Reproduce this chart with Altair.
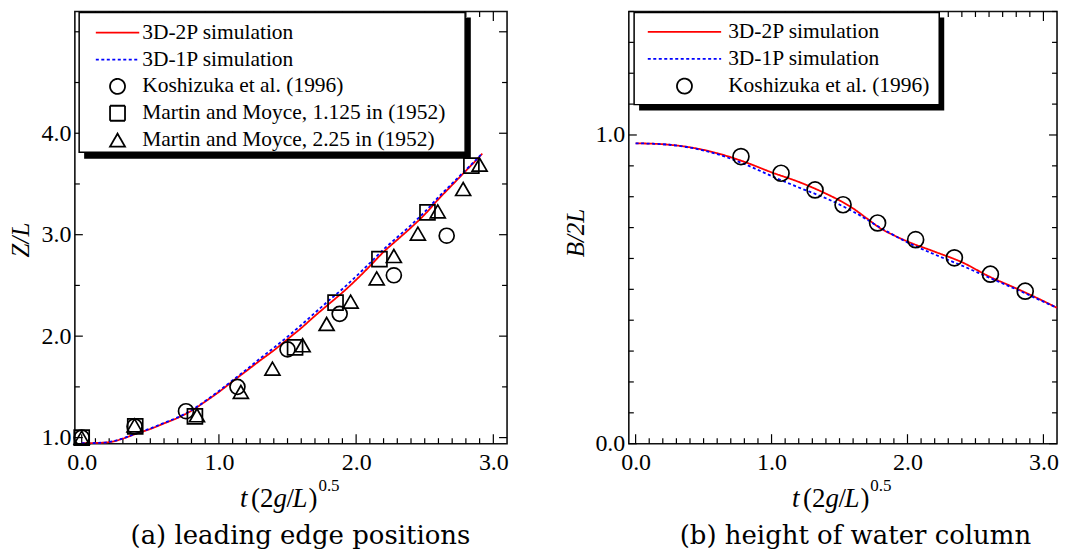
import altair as alt
import pandas as pd

FONT = "Liberation Serif"

# ---------------- panel (a): leading edge positions ----------------
S2P = "3D-2P simulation"
S1P = "3D-1P simulation"
SK = "Koshizuka et al. (1996)"
SM1 = "Martin and Moyce, 1.125 in (1952)"
SM2 = "Martin and Moyce, 2.25 in (1952)"

t_sim_a = [0.0, 0.1, 0.2, 0.3, 0.4, 0.5, 0.6, 0.7, 0.8, 0.9, 1.0, 1.1, 1.2, 1.3, 1.4,
           1.5, 1.6, 1.7, 1.8, 1.9, 2.0, 2.1, 2.2, 2.3, 2.4, 2.5, 2.6, 2.7, 2.8, 2.9, 2.92]
z_2p = [0.945, 0.947, 0.955, 0.99, 1.04, 1.085, 1.14, 1.195, 1.265, 1.355, 1.45, 1.555,
        1.657, 1.76, 1.86, 1.97, 2.08, 2.20, 2.315, 2.43, 2.555, 2.69, 2.83, 2.95, 3.07,
        3.20, 3.35, 3.49, 3.63, 3.77, 3.80]
z_1p = [0.945, 0.947, 0.957, 0.992, 1.042, 1.09, 1.145, 1.20, 1.27, 1.36, 1.46, 1.565,
        1.67, 1.78, 1.885, 1.995, 2.11, 2.23, 2.35, 2.465, 2.59, 2.72, 2.855, 2.975, 3.095,
        3.225, 3.37, 3.505, 3.64, 3.775, 3.805]

kosh_t_a = [0.0, 0.385, 0.76, 1.135, 1.50, 1.88, 2.275, 2.66]
kosh_z = [1.0, 1.11, 1.26, 1.50, 1.87, 2.22, 2.60, 2.99]
mm1_t = [0.0, 0.39, 0.825, 1.555, 1.85, 2.17, 2.52, 2.84]
mm1_z = [1.0, 1.11, 1.21, 1.89, 2.33, 2.76, 3.22, 3.68]
mm2_t = [0.0, 0.385, 0.84, 1.16, 1.39, 1.61, 1.785, 1.96, 2.15, 2.275, 2.45, 2.595, 2.78, 2.90]
mm2_z = [1.0, 1.12, 1.22, 1.45, 1.68, 1.91, 2.12, 2.34, 2.57, 2.79, 3.01, 3.23, 3.45, 3.69]

# ---------------- panel (b): height of water column ----------------
t_sim_b = [0.0, 0.2, 0.4, 0.6, 0.8, 1.0, 1.2, 1.4, 1.5, 1.6, 1.7, 1.8, 1.9, 2.0, 2.2, 2.4,
           2.6, 2.8, 3.0, 3.1]
b_2p = [0.973, 0.970, 0.960, 0.941, 0.913, 0.879, 0.848, 0.81, 0.788, 0.762, 0.73, 0.698,
        0.675, 0.655, 0.622, 0.588, 0.542, 0.503, 0.462, 0.44]
t_sim_b1 = [0.0, 0.2, 0.4, 0.6, 0.8, 1.0, 1.2, 1.4, 1.6, 1.8, 2.0, 2.2, 2.4, 2.6, 2.8, 3.0, 3.1]
b_1p = [0.973, 0.970, 0.959, 0.938, 0.906, 0.867, 0.83, 0.795, 0.752, 0.70, 0.652, 0.613,
        0.577, 0.538, 0.500, 0.46, 0.44]
kosh_t_b = [0.775, 1.07, 1.32, 1.526, 1.78, 2.06, 2.345, 2.61, 2.866]
kosh_b = [0.93, 0.876, 0.822, 0.774, 0.715, 0.661, 0.602, 0.549, 0.494]

# ---------------- axes / ticks ----------------
X_DOMAIN = [-0.05, 3.1]
X_LABELS = [0.0, 1.0, 2.0, 3.0]
XT_MAJOR = [0.0, 1.0, 2.0, 3.0]
XT_MINOR = [round(0.1 * i, 1) for i in range(31) if i % 10 != 0]

YA_DOMAIN = [0.94, 5.2]
YA_LABELS = [1.0, 2.0, 3.0, 4.0]
YA_MAJOR = [1.0, 2.0, 3.0, 4.0, 5.0]
YA_MINOR = [1.5, 2.5, 3.5, 4.5]

YB_DOMAIN = [0.0, 1.4]
YB_LABELS = [0.0, 1.0]
YB_MAJOR = [0.0, 1.0]
YB_MINOR = [round(0.1 * i, 1) for i in range(15) if i % 10 != 0]

LINE_PATH_A = "M-2.9,0L2.9,0"
LINE_PATH_B = "M-4.9,0L4.9,0"

ONE = pd.DataFrame({"k": [0]})


def frame(t, v, name):
    return pd.DataFrame({"t": t, "v": v, "series": name})


def txt(text, x, y, size, style="normal", angle=0, font=FONT, align="left", baseline="alphabetic"):
    return alt.Chart(ONE).mark_text(
        text=text, font=font, fontSize=size, fontStyle=style, angle=angle,
        align=align, baseline=baseline, color="black"
    ).encode(x=alt.value(x), y=alt.value(y))


def panel(W, H, ydom, ylabels, ymajor, yminor, line_df, pts_df, series, colors, shapes,
          dashes, psize, leg_x, leg_y, label_offset, row_pad, box, shadow, ytitle, ytitle_xy,
          caption, caption_x, anchor):
    xs = alt.Scale(domain=X_DOMAIN, nice=False, zero=False)
    ys = alt.Scale(domain=ydom, nice=False, zero=False)
    xax = alt.Axis(values=X_LABELS, format=".1f", title=None, ticks=False, domain=False,
                   grid=False, labelPadding=7, labelFont=FONT, labelFontSize=24,
                   labelColor="black", labelFlush=False, labelOverlap=False)
    yax = alt.Axis(values=ylabels, format=".1f", title=None, ticks=False, domain=False,
                   grid=False, labelPadding=4, labelFont=FONT, labelFontSize=24,
                   labelColor="black", labelFlush=False, labelOverlap=False)

    def X():
        return alt.X("t:Q", scale=xs, axis=xax)

    def Y():
        return alt.Y("v:Q", scale=ys, axis=yax)

    leg = alt.Legend(title=None, orient="none", legendX=leg_x, legendY=leg_y, padding=0,
                     labelFont=FONT, labelFontSize=21.5, labelColor="black", labelLimit=600,
                     symbolSize=225, symbolStrokeWidth=1.8, symbolOpacity=1,
                     labelOffset=label_offset, rowPadding=row_pad, symbolOffset=0)
    cs = alt.Scale(domain=series, range=colors)
    ss = alt.Scale(domain=series, range=shapes)
    ds = alt.Scale(domain=series, range=dashes)

    layers = []
    # invisible anchor fixing the overall extent of the panel
    ax1, ax2, ay1, ay2 = anchor
    layers.append(alt.Chart(ONE).mark_rect(opacity=0).encode(
        x=alt.value(ax1), x2=alt.value(ax2), y=alt.value(ay1), y2=alt.value(ay2)))

    tick = dict(color="black", strokeWidth=1.2)
    for vals, ln in ((XT_MAJOR, 9.5), (XT_MINOR, 5.5)):
        d = pd.DataFrame({"t": vals})
        layers.append(alt.Chart(d).mark_rule(**tick).encode(
            x=X(), y=alt.value(H), y2=alt.value(H - ln)))
        layers.append(alt.Chart(d).mark_rule(**tick).encode(
            x=X(), y=alt.value(0), y2=alt.value(ln)))
    for vals, ln in ((ymajor, 8), (yminor, 5)):
        d = pd.DataFrame({"v": vals})
        layers.append(alt.Chart(d).mark_rule(**tick).encode(
            y=Y(), x=alt.value(0), x2=alt.value(ln)))
        layers.append(alt.Chart(d).mark_rule(**tick).encode(
            y=Y(), x=alt.value(W), x2=alt.value(W - ln)))

    layers.append(alt.Chart(line_df).mark_line(strokeWidth=1.8, interpolate="monotone").encode(
        x=X(), y=Y(),
        color=alt.Color("series:N", scale=cs, legend=leg),
        strokeDash=alt.StrokeDash("series:N", scale=ds, legend=leg)))
    layers.append(alt.Chart(pts_df).mark_point(filled=False, size=psize, strokeWidth=1.7,
                                               opacity=1).encode(
        x=X(), y=Y(),
        color=alt.Color("series:N", scale=cs, legend=leg),
        shape=alt.Shape("series:N", scale=ss, legend=leg)))

    sx1, sx2, sy1, sy2 = shadow
    layers.append(alt.Chart(ONE).mark_rect(color="black").encode(
        x=alt.value(sx1), x2=alt.value(sx2), y=alt.value(sy1), y2=alt.value(sy2)))
    bx1, bx2, by1, by2 = box
    layers.append(alt.Chart(ONE).mark_rect(fill="white", stroke="black", strokeWidth=1.5).encode(
        x=alt.value(bx1), x2=alt.value(bx2), y=alt.value(by1), y2=alt.value(by2)))

    c = W / 2
    layers += [
        txt("t", c - 51, 496, 27, "italic"),
        txt("(2", c - 40, 496, 27),
        txt("g", c - 17.5, 496, 27, "italic"),
        txt("/", c - 4.5, 496, 27),
        txt("L", c + 1.5, 496, 27, "italic"),
        txt(")", c + 17.5, 496, 27),
        txt("0.5", c + 27.5, 480, 17),
        txt(ytitle, ytitle_xy[0], ytitle_xy[1], 25, "italic", angle=270,
            align="center", baseline="middle"),
        txt(caption, caption_x, 533, 26, font="DejaVu Serif", align="center"),
    ]
    return alt.layer(*layers).properties(width=W, height=H)


series_a = [S2P, S1P, SK, SM1, SM2]
line_a = pd.concat([frame(t_sim_a, z_2p, S2P), frame(t_sim_a, z_1p, S1P)])
pts_a = pd.concat([frame(kosh_t_a, kosh_z, SK), frame(mm1_t, mm1_z, SM1),
                   frame(mm2_t, mm2_z, SM2)])
left = panel(
    433, 433, YA_DOMAIN, YA_LABELS, YA_MAJOR, YA_MINOR, line_a, pts_a, series_a,
    ["#ff0000", "#0000ff", "black", "black", "black"],
    [LINE_PATH_A, LINE_PATH_A, "circle", "square", "triangle-up"],
    [[1, 0], [3, 2.5], [1, 0], [1, 0], [1, 0]],
    225, 32, 10.5, 14, 3.9,
    (4.3, 391, 1, 141), (9.3, 396.7, 6, 147.6),
    "Z/L", (-54, 229), "(a) leading edge positions", 226,
    (-74, 0, -10, 543))

series_b = [S2P, S1P, SK]
line_b = pd.concat([frame(t_sim_b, b_2p, S2P), frame(t_sim_b1, b_1p, S1P)])
pts_b = frame(kosh_t_b, kosh_b, SK)
right = panel(
    429, 433, YB_DOMAIN, YB_LABELS, YB_MAJOR, YB_MINOR, line_b, pts_b, series_b,
    ["#ff0000", "#0000ff", "black"],
    [LINE_PATH_B, LINE_PATH_B, "circle"],
    [[1, 0], [3, 2.5], [1, 0]],
    256, 45, 9.6, 33, 4.2,
    (5.3, 311, 1, 93.3), (10.3, 316, 6, 99.3),
    "B/2L", (-53, 222), "(b) height of water column", 227,
    (0, 438, -10, 543))

chart = alt.hconcat(left, right, spacing=122, bounds="flush").resolve_scale(
    color="independent", shape="independent", strokeDash="independent",
    x="independent", y="independent"
).resolve_legend(
    color="independent", shape="independent", strokeDash="independent"
).properties(
    autosize=alt.AutoSizeParams(type="pad"),
    padding=0,
).configure_view(stroke="#111", strokeWidth=1.6)

chart.save("out.html", embed_options={"renderer": "svg", "actions": False})
